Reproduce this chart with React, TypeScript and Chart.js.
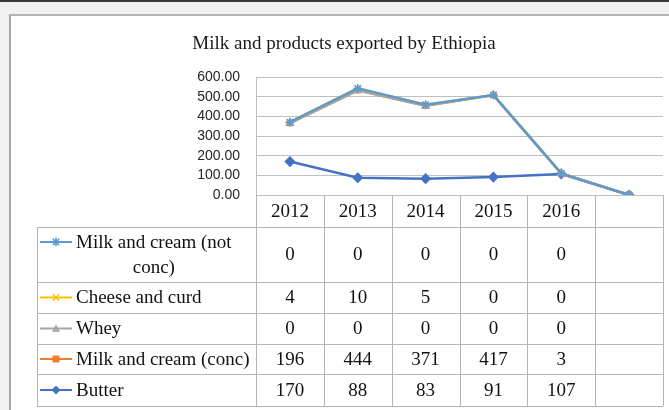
import React, { useEffect, useRef } from 'react';
import { Chart, registerables } from 'chart.js';

Chart.register(...registerables);

// ---- data ----
const chartTitle = 'Milk and products exported by Ethiopia';
const years = ['2012', '2013', '2014', '2015', '2016', ''];
const yMin = 0;
const yMax = 600;
const yStep = 100;

const butter = [170, 88, 83, 91, 107, 0];
const milkConc = [196, 444, 371, 417, 3, 0];
const whey = [0, 0, 0, 0, 0, 0];
const cheeseCurd = [4, 10, 5, 0, 0, 0];
const milkNotConc = [0, 0, 0, 0, 0, 0];

// stacking order bottom -> top
const seriesNames = ['Butter', 'Milk and cream (conc)', 'Whey', 'Cheese and curd', 'Milk and cream (not conc)'];
const seriesValues = [butter, milkConc, whey, cheeseCurd, milkNotConc];
const seriesColors = ['#4472C4', '#ED7D31', '#A5A5A5', '#FFC000', '#5B9BD5'];
const seriesMarkers = ['rectRot', 'rect', 'triangle', 'crossRot', 'star'];
const seriesRadius = [4.5, 3.5, 4, 4, 4.5];
// table rows top -> bottom (indices into series arrays)
const tableOrder = [4, 3, 2, 1, 0];

// ---- layout constants ----
const W = 669;
const H = 410;
const TABLE_LEFT = 37;
const HEADER_H = 32;
const ROW_H = [55, 31, 31, 30, 32];
const GRID = '#bfbfbf';
const TABLE_LINE = '#b4b4b4';
const SERIF = '"Liberation Serif", "Times New Roman", serif';

function drawMarker(ctx: CanvasRenderingContext2D, style: string, x: number, y: number, r: number, color: string) {
  ctx.save();
  ctx.fillStyle = color;
  ctx.strokeStyle = color;
  ctx.lineWidth = 1.5;
  ctx.beginPath();
  if (style === 'rectRot') {
    ctx.moveTo(x, y - r); ctx.lineTo(x + r, y); ctx.lineTo(x, y + r); ctx.lineTo(x - r, y); ctx.closePath(); ctx.fill();
  } else if (style === 'rect') {
    ctx.rect(x - r, y - r, 2 * r, 2 * r); ctx.fill();
  } else if (style === 'triangle') {
    ctx.moveTo(x, y - r); ctx.lineTo(x + r, y + r * 0.8); ctx.lineTo(x - r, y + r * 0.8); ctx.closePath(); ctx.fill();
  } else if (style === 'crossRot') {
    ctx.moveTo(x - r * 0.8, y - r * 0.8); ctx.lineTo(x + r * 0.8, y + r * 0.8);
    ctx.moveTo(x + r * 0.8, y - r * 0.8); ctx.lineTo(x - r * 0.8, y + r * 0.8); ctx.stroke();
  } else {
    ctx.moveTo(x - r, y); ctx.lineTo(x + r, y);
    ctx.moveTo(x, y - r); ctx.lineTo(x, y + r);
    ctx.moveTo(x - r * 0.7, y - r * 0.7); ctx.lineTo(x + r * 0.7, y + r * 0.7);
    ctx.moveTo(x + r * 0.7, y - r * 0.7); ctx.lineTo(x - r * 0.7, y + r * 0.7); ctx.stroke();
  }
  ctx.restore();
}

function wrapText(ctx: CanvasRenderingContext2D, text: string, maxW: number): string[] {
  const words = text.split(' ');
  const lines: string[] = [];
  let cur = '';
  for (const w of words) {
    const t = cur ? cur + ' ' + w : w;
    if (ctx.measureText(t).width > maxW && cur) {
      lines.push(cur);
      cur = w;
    } else cur = t;
  }
  if (cur) lines.push(cur);
  return lines;
}

const drawOrderPlugin = {
  id: 'drawOrder',
  beforeDatasetsDraw(chart: any) {
    const metas = chart.getSortedVisibleDatasetMetas();
    for (const m of metas) chart._drawDataset(m);
    return false;
  },
};

const dataTablePlugin = {
  id: 'dataTable',
  afterDraw(chart: any) {
    const ctx: CanvasRenderingContext2D = chart.ctx;
    const xs = chart.scales.x;
    const area = chart.chartArea;
    const n = years.length;
    const step = xs.getPixelForValue(1) - xs.getPixelForValue(0);
    const edge = (i: number) => xs.getPixelForValue(i) - step / 2;
    const tableRight = edge(n);
    const rowTops: number[] = [area.bottom, area.bottom + HEADER_H];
    for (const h of ROW_H) rowTops.push(rowTops[rowTops.length - 1] + h);
    const tableBottom = rowTops[rowTops.length - 1];

    ctx.save();
    ctx.strokeStyle = TABLE_LINE;
    ctx.lineWidth = 1;
    ctx.beginPath();
    for (let i = 0; i <= n; i++) {
      const x = Math.round(edge(i)) + 0.5;
      ctx.moveTo(x, area.bottom);
      ctx.lineTo(x, tableBottom);
    }
    const lx = TABLE_LEFT + 0.5;
    ctx.moveTo(lx, rowTops[1]);
    ctx.lineTo(lx, tableBottom);
    for (let r = 1; r < rowTops.length; r++) {
      const y = Math.round(rowTops[r]) + 0.5;
      ctx.moveTo(TABLE_LEFT, y);
      ctx.lineTo(tableRight, y);
    }
    ctx.stroke();

    ctx.font = '19px ' + SERIF;
    ctx.fillStyle = '#111';
    ctx.textBaseline = 'middle';
    ctx.textAlign = 'center';
    const headerY = (rowTops[0] + rowTops[1]) / 2 + 1;
    years.forEach((y, i) => ctx.fillText(y, xs.getPixelForValue(i), headerY));

    const keyL = TABLE_LEFT + 3;
    const keyR = TABLE_LEFT + 35;
    const textL = keyR + 4;
    const textMax = edge(0) - textL - 2;
    const lineGap = 25;

    tableOrder.forEach((si, r) => {
      const top = rowTops[r + 1];
      const bot = rowTops[r + 2];
      const cy = (top + bot) / 2;
      ctx.font = '19px ' + SERIF;
      const lines = wrapText(ctx, seriesNames[si], textMax);
      const firstY = cy - ((lines.length - 1) * lineGap) / 2;
      // key
      ctx.save();
      ctx.strokeStyle = seriesColors[si];
      ctx.lineWidth = 2;
      ctx.beginPath();
      ctx.moveTo(keyL, firstY);
      ctx.lineTo(keyR, firstY);
      ctx.stroke();
      ctx.restore();
      drawMarker(ctx, seriesMarkers[si], (keyL + keyR) / 2, firstY, seriesRadius[si], seriesColors[si]);
      // name
      ctx.fillStyle = '#111';
      ctx.textAlign = 'left';
      ctx.fillText(lines[0], textL, firstY + 1);
      const c = textL + ctx.measureText(lines[0]).width / 2;
      ctx.textAlign = 'center';
      for (let k = 1; k < lines.length; k++) ctx.fillText(lines[k], c, firstY + k * lineGap + 1);
      // values
      seriesValues[si].forEach((v, i) => {
        if (years[i] === '') return;
        ctx.fillText(String(v), xs.getPixelForValue(i), cy + 1);
      });
    });
    ctx.restore();
  },
};

export default function App() {
  const ref = useRef<HTMLCanvasElement | null>(null);

  useEffect(() => {
    if (!ref.current) return;
    const chart = new Chart(ref.current, {
      type: 'line',
      data: {
        labels: years,
        datasets: seriesNames.map((name, i) => ({
          label: name,
          data: seriesValues[i],
          borderColor: seriesColors[i],
          backgroundColor: seriesColors[i],
          pointBorderColor: seriesColors[i],
          pointBackgroundColor: seriesColors[i],
          pointStyle: seriesMarkers[i] as any,
          pointRadius: seriesRadius[i],
          pointBorderWidth: 1.5,
          borderWidth: 2.5,
          tension: 0,
          fill: false,
        })),
      },
      options: {
        animation: false,
        responsive: false,
        devicePixelRatio: 1,
        events: [],
        layout: { padding: { left: 25, right: 6, top: 0, bottom: 215 } },
        plugins: {
          legend: { display: false },
          tooltip: { enabled: false },
          title: {
            display: true,
            text: chartTitle,
            color: '#1a1a1a',
            font: { family: SERIF, size: 19, weight: 'normal', lineHeight: 1.2 },
            padding: { top: 32.6, bottom: 21.6 },
          },
        },
        scales: {
          x: {
            type: 'category',
            offset: true,
            display: false,
          },
          y: {
            stacked: true,
            min: yMin,
            max: yMax,
            afterFit: (s: any) => { s.width = 231; },
            ticks: {
              stepSize: yStep,
              autoSkip: false,
              padding: 16,
              color: '#262626',
              font: { family: '"Liberation Sans", Arial, sans-serif', size: 14 },
              callback: (v: any) => Number(v).toFixed(2),
            },
            grid: { color: GRID, drawTicks: false, lineWidth: 1 },
            border: { display: true, color: GRID, width: 1 },
          },
        },
      },
      plugins: [drawOrderPlugin, dataTablePlugin],
    });
    return () => chart.destroy();
  }, []);

  return (
    <div style={{ position: 'fixed', left: 0, top: 0, width: W, height: H, background: '#eff1f3', overflow: 'hidden' }}>
      <div style={{ position: 'absolute', left: 0, top: 0, width: W, height: 2, background: '#3a3a3a' }} />
      <div
        style={{
          position: 'absolute', left: 9, top: 14, width: W - 9, height: H - 14, background: '#fff',
          borderLeft: '2px solid #a8a8a8', borderTop: '2px solid #b4b4b4', boxSizing: 'border-box',
        }}
      />
      <canvas ref={ref} width={W} height={H} style={{ position: 'absolute', left: 0, top: 0, width: W, height: H }} />
    </div>
  );
}
